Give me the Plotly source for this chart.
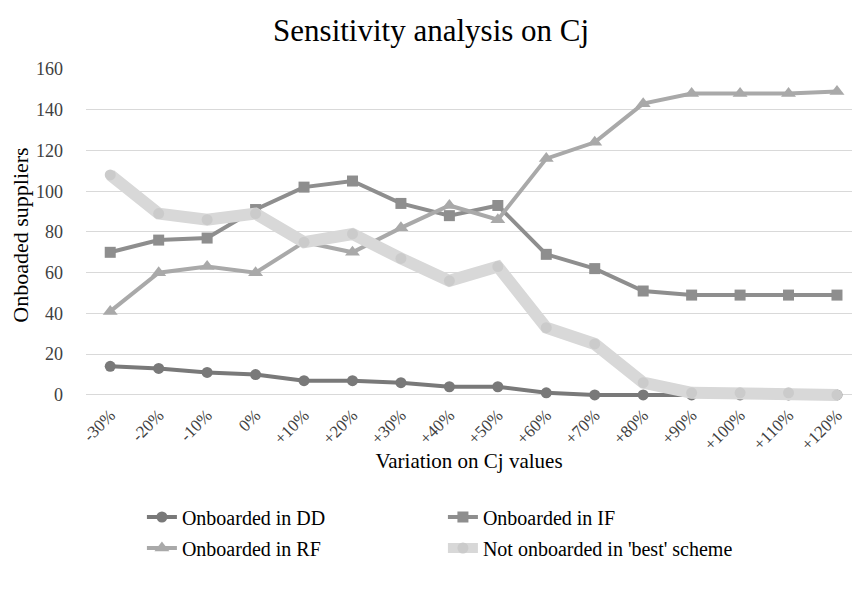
import plotly.graph_objects as go

categories = ["-30%", "-20%", "-10%", "0%", "+10%", "+20%", "+30%", "+40%",
              "+50%", "+60%", "+70%", "+80%", "+90%", "+100%", "+110%", "+120%"]
dd = [14, 13, 11, 10, 7, 7, 6, 4, 4, 1, 0, 0, 0, 0, 0, 0]
if_ = [70, 76, 77, 91, 102, 105, 94, 88, 93, 69, 62, 51, 49, 49, 49, 49]
rf = [41, 60, 63, 60, 75, 70, 82, 93, 86, 116, 124, 143, 148, 148, 148, 149]
not_onb = [108, 89, 86, 89, 75, 79, 67, 56, 63, 33, 25, 6, 1, 1, 1, 0]
y_ticks = [0, 20, 40, 60, 80, 100, 120, 140, 160]

FONT = "Liberation Serif, Times New Roman, serif"

fig = go.Figure()
fig.add_trace(go.Scatter(x=categories, y=dd, mode="lines+markers", name="Onboarded in DD",
                         line=dict(color="#797979", width=4),
                         marker=dict(symbol="circle", size=11, color="#797979"),
                         legend="legend"))
fig.add_trace(go.Scatter(x=categories, y=if_, mode="lines+markers", name="Onboarded in IF",
                         line=dict(color="#8e8e8e", width=4),
                         marker=dict(symbol="square", size=11, color="#8e8e8e"),
                         legend="legend"))
fig.add_trace(go.Scatter(x=categories, y=rf, mode="lines+markers", name="Onboarded in RF",
                         line=dict(color="#a9a9a9", width=4),
                         marker=dict(symbol="triangle-up", size=13, color="#a9a9a9"),
                         legend="legend2"))
fig.add_trace(go.Scatter(x=categories, y=not_onb, mode="lines+markers",
                         name="Not onboarded in 'best' scheme",
                         line=dict(color="#d8d8d8", width=12),
                         marker=dict(symbol="circle", size=11, color="#cbcbcb"),
                         legend="legend2"))

legend_common = dict(orientation="h", xref="paper", yref="container",
                     font=dict(family=FONT, size=20, color="#000000"),
                     entrywidth=256, entrywidthmode="pixels",
                     bgcolor="rgba(0,0,0,0)", itemsizing="trace")

fig.update_layout(
    width=852, height=589,
    margin=dict(l=86, r=0, t=69, b=188),
    paper_bgcolor="white", plot_bgcolor="white",
    font=dict(family=FONT, color="#404040"),
    title=dict(text="Sensitivity analysis on Cj", x=0.506, xanchor="center",
               y=1 - 30 / 589, yanchor="middle",
               font=dict(family=FONT, size=31, color="#000000")),
    xaxis=dict(type="category", range=[-0.5, 15.31],
               tickangle=-45, tickfont=dict(family=FONT, size=17, color="#404040"),
               showgrid=False, showline=False, zeroline=False, ticks="",
               title=dict(text="Variation on Cj values", standoff=0,
                          font=dict(family=FONT, size=21, color="#000000"))),
    yaxis=dict(range=[-3, 160], tickvals=y_ticks, showgrid=True, gridcolor="#d9d9d9",
               gridwidth=1, zeroline=False,
               showline=False, ticks="", ticklabelstandoff=22,
               tickfont=dict(family=FONT, size=18, color="#404040"),
               title=dict(text="Onboaded suppliers", standoff=1,
                          font=dict(family=FONT, size=22, color="#000000"))),
    legend=dict(x=0.073, y=1 - 517 / 589, yanchor="middle", xanchor="left", **legend_common),
    legend2=dict(x=0.073, y=1 - 548 / 589, yanchor="middle", xanchor="left", **legend_common),
)

fig.write_html("out.html")
